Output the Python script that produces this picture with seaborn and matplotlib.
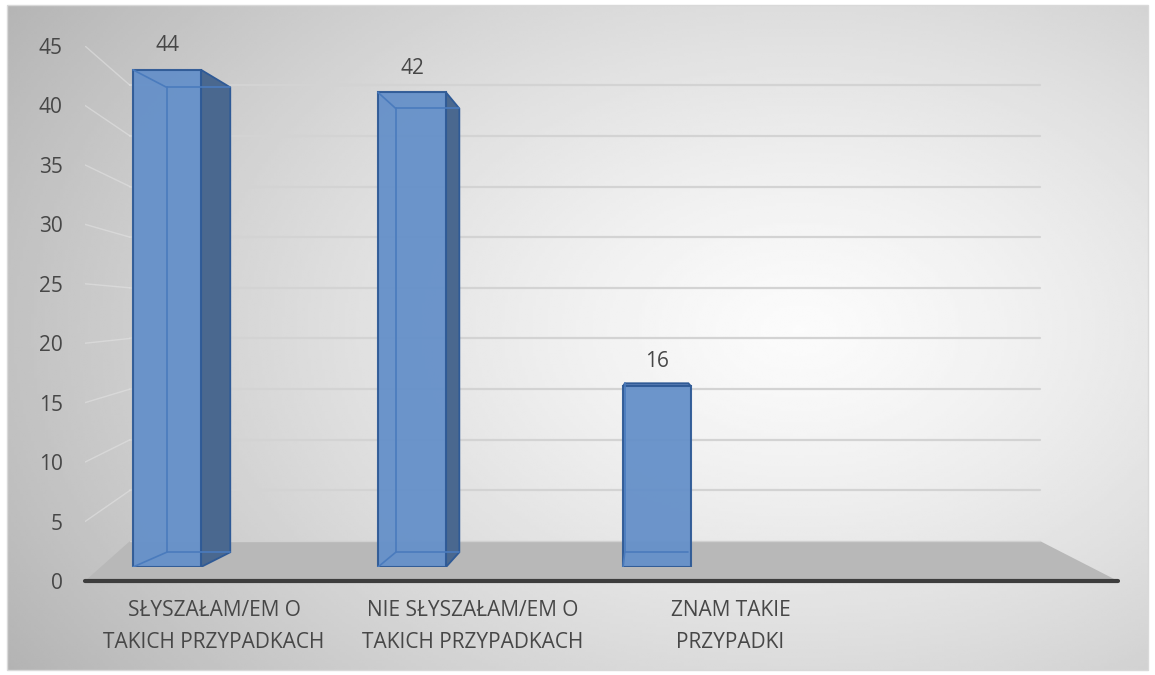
import numpy as np
import pandas as pd
import matplotlib
matplotlib.use('Agg')
import matplotlib.pyplot as plt
from matplotlib.patches import Polygon, Rectangle
import seaborn as sns

categories = ['SŁYSZAŁAM/EM O\nTAKICH PRZYPADKACH',
              'NIE SŁYSZAŁAM/EM O\nTAKICH PRZYPADKACH',
              'ZNAM TAKIE\nPRZYPADKI']
values = [44, 42, 16]
y_ticks = [0, 5, 10, 15, 20, 25, 30, 35, 40, 45]

W, H = 1155, 675
text_color = '#474747'
face_color = '#6590c9'
side_color = '#4a688f'
edge_color = '#2f5a96'
inner_color = '#4a7bbd'

sns.set_style('white')
plt.rcParams['font.family'] = ['Open Sans', 'DejaVu Sans']

fig = plt.figure(figsize=(W / 100, H / 100), dpi=100)
fig.patch.set_facecolor('white')

# background: radial grey gradient inside a thin border
bg = fig.add_axes([0, 0, 1, 1])
bg.set_xlim(0, W)
bg.set_ylim(H, 0)
bg.axis('off')
gx, gy = np.meshgrid(np.linspace(7, 1148, 400), np.linspace(5, 670, 240))
d = np.sqrt(((gx - 800) / 780) ** 2 + ((gy - 330) / 520) ** 2)
shade = 0.985 - 0.22 * np.clip(d, 0, 1.2) ** 1.3
bg.imshow(shade, cmap='gray', vmin=0, vmax=1, extent=(7, 1148, 670, 5),
          aspect='auto', interpolation='bilinear')
bg.add_patch(Rectangle((7, 5), 1141, 665, fill=False, edgecolor='#d9d9d9', lw=1))

# main axes: value scale at the front edge of the floor
ax = fig.add_axes([85 / W, (H - 581) / H, (1118 - 85) / W, (581 - 46) / H])
ax.set_facecolor('none')
ax.set_xlim(-0.5, 3.5)
ax.set_ylim(0, 45)
for s in ax.spines.values():
    s.set_visible(False)

# depth of the 3d box, in axis units
depth_dx, depth_dy = 0.174, 3.36
shrink_x, shrink_y = 0.881, 0.852


def back(x, v):
    return (-0.5 + depth_dx + (x + 0.5) * shrink_x, depth_dy + v * shrink_y)


x_left, x_right = ax.get_xlim()
floor = [(x_left, 0), (x_right, 0), back(x_right, 0), back(x_left, 0)]
ax.add_patch(Polygon(floor, closed=True, facecolor='#b8b8b8', edgecolor='none',
                     zorder=1, clip_on=False))
ax.plot(*zip(back(x_left, 0), back(x_right, 0)), color='#d0d0d0', lw=1, zorder=1.1)

for v in y_ticks[1:]:
    ax.plot(*zip(back(x_left, v), back(x_right, v)), color='#d3d3d3', lw=1.6, zorder=0.5)
    ax.plot(*zip((x_left, v), back(x_left, v)), color='#e2e2e2', lw=1.0,
            alpha=0.6, zorder=0.5)

ax.plot([x_left, x_right], [0, 0], color='#3d3d3d', lw=3, solid_capstyle='round',
        zorder=3, clip_on=False)

ax.set_yticks(y_ticks)
ax.set_xticks(range(len(categories)))
ax.set_xticklabels(categories, linespacing=1.65)
ax.tick_params(axis='y', length=0, pad=16, labelsize=15, labelcolor=text_color)
ax.tick_params(axis='x', length=0, pad=14, labelsize=15, labelcolor=text_color)

# bars on their own plane, a little behind the floor's front edge
ax_bar = fig.add_axes([44.5 / W, (H - 567) / H, 980 / W, (567 - 58.5) / H])
ax_bar.set_facecolor('none')
df = pd.DataFrame({'kategoria': categories, 'liczba': values})
sns.barplot(data=df, x='kategoria', y='liczba', ax=ax_bar, width=0.2776,
            color=face_color, saturation=1, edgecolor=edge_color, linewidth=1.5,
            alpha=0.95, zorder=4)
ax_bar.set_xlim(-0.5, 3.5)
ax_bar.set_ylim(0, 45)
ax_bar.axis('off')

vpx, vpy, S = 1.976, 20.1, 0.935


def bar_back(x, y):
    return (vpx + (x - vpx) * S, vpy + (y - vpy) * S)


for p in ax_bar.patches:
    x0, x1 = p.get_x(), p.get_x() + p.get_width()
    y0, y1 = p.get_y(), p.get_y() + p.get_height()
    bx0, by1 = bar_back(x0, y1)
    bx1, by0 = bar_back(x1, y0)
    if bx1 > x1:
        ax_bar.add_patch(Polygon([(x1, y0), (x1, y1), (bx1, by1), (bx1, by0)],
                                 closed=True, facecolor=side_color,
                                 edgecolor=edge_color, lw=1.3, zorder=3.5))
    if by1 > y1:
        # short bar: the top face shows from above
        ax_bar.add_patch(Polygon([(x0, y1), (x1, y1), (bx1, by1), (bx0, by1)],
                                 closed=True, facecolor='#5479b0',
                                 edgecolor=edge_color, lw=1.2, zorder=3.5))
    else:
        ax_bar.plot(*zip((x0, y1), (bx0, by1)), color=inner_color, lw=1.2, zorder=5)
        ax_bar.plot(*zip((bx0, by1), (bx1, by1)), color=inner_color, lw=1.2, zorder=5)
    for a, b in [((bx0, by1), (bx0, by0)), ((bx0, by0), (bx1, by0)),
                 ((x0, y0), (bx0, by0))]:
        ax_bar.plot(*zip(a, b), color=inner_color, lw=1.2, zorder=5)

ax_bar.bar_label(ax_bar.containers[0], labels=[str(v) for v in values],
                 padding=10, fontsize=15, color=text_color)

fig.savefig('out.png', dpi=100)
